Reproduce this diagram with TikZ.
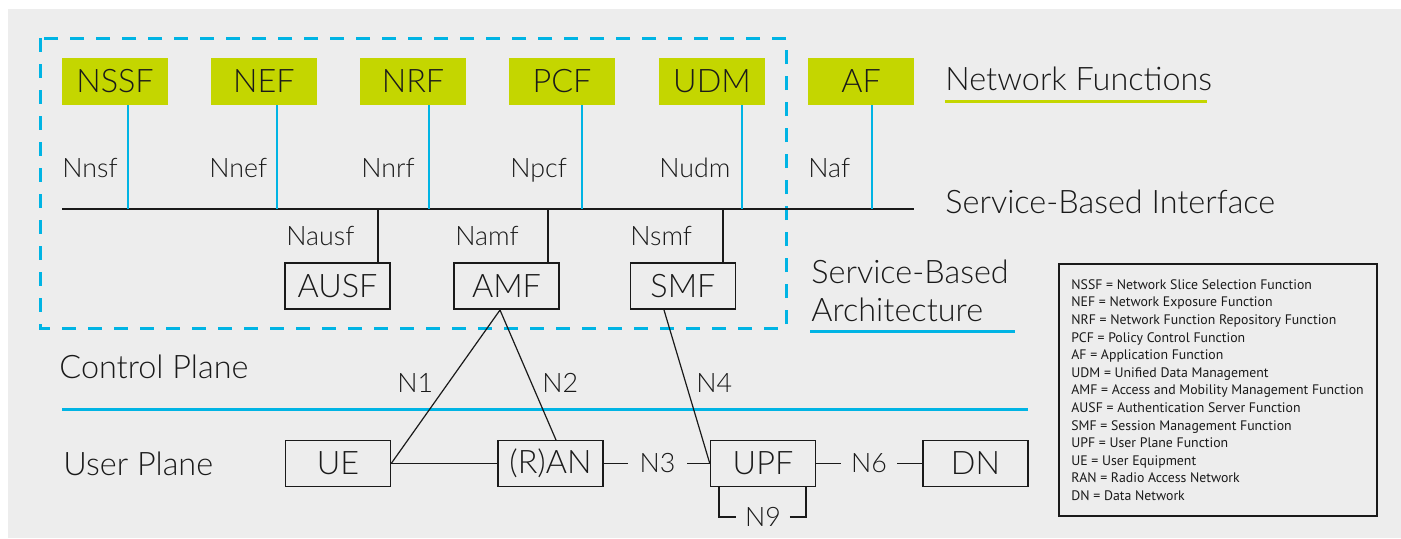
\documentclass[tikz,border=0pt]{standalone}
\usepackage{fontspec}
\setmainfont{Lato Light}
\newfontfamily\legendfamily{PT Sans}
\definecolor{bgc}{HTML}{EDEDED}
\definecolor{sbacyan}{HTML}{00B4E4}
\definecolor{nfgreen}{HTML}{C4D600}
\definecolor{ink}{HTML}{1A1A1A}
\newcommand{\boxfont}{\fontsize{16.2}{18}\selectfont}
\newcommand{\iffont}{\fontsize{13.4}{15}\selectfont}
\begin{document}
\begin{tikzpicture}[x=0.5pt,y=-0.5pt,
  every node/.style={text=ink},
  nfbox/.style={fill=nfgreen, minimum width=53pt, minimum height=23.5pt, inner sep=0pt, font=\boxfont},
  fnbox/.style={draw=ink, line width=0.7pt, minimum width=52.5pt, minimum height=23pt, inner sep=0pt, font=\boxfont},
  iflabel/.style={anchor=base west, inner sep=0pt, font=\iffont},
  title/.style={anchor=base west, inner sep=0pt, font=\boxfont},
  gaplabel/.style={inner ysep=0pt, outer sep=0pt, font=\iffont},
  sbiline/.style={draw=sbacyan, line width=0.7pt},
  blkline/.style={draw=ink, line width=0.6pt},
  planeline/.style={draw=sbacyan, line width=1.5pt}]
\useasboundingbox (0,0) rectangle (1401,538);
\fill[white] (0,0) rectangle (1401,538);
\fill[bgc] (8,9) rectangle (1401,538);

% service-based architecture frame
\draw[sbacyan, line width=1.5pt, dash pattern=on 7pt off 6pt] (40,38) rectangle (786,328);

% network functions
\node[nfbox] (nssf) at (115,81.5) {NSSF};
\node[nfbox] (nef)  at (264,81.5) {NEF};
\node[nfbox] (nrf)  at (413,81.5) {NRF};
\node[nfbox] (pcf)  at (562,81.5) {PCF};
\node[nfbox] (udm)  at (712,81.5) {UDM};
\node[nfbox] (af)   at (861,81.5) {AF};

% service-based interface bus
\coordinate (busL) at (62,209);
\coordinate (busR) at (914,209);
\draw[blkline] (busL) -- (busR);

\coordinate (tnssf) at (128,209);
\coordinate (tnef)  at (277,209);
\coordinate (tnrf)  at (429,209);
\coordinate (tpcf)  at (582,209);
\coordinate (tudm)  at (742,209);
\coordinate (taf)   at (872,209);
\draw[sbiline] (tnssf |- nssf.south) -- (tnssf);
\draw[sbiline] (tnef |- nef.south) -- (tnef);
\draw[sbiline] (tnrf |- nrf.south) -- (tnrf);
\draw[sbiline] (tpcf |- pcf.south) -- (tpcf);
\draw[sbiline] (tudm |- udm.south) -- (tudm);
\draw[sbiline] (taf |- af.south) -- (taf);

\node[iflabel] (lnssf) at (62,177)  {Nnsf};
\node[iflabel] (lnef)  at (209,177) {Nnef};
\node[iflabel] (lnrf)  at (361,177) {Nnrf};
\node[iflabel] (lpcf)  at (510,177) {Npcf};
\node[iflabel] (ludm)  at (659,177) {Nudm};
\node[iflabel] (laf)   at (808,177) {Naf};

% control plane functions below the bus
\node[fnbox] (ausf) at (337.5,286) {AUSF};
\node[fnbox] (amf)  at (506.5,286) {AMF};
\node[fnbox] (smf)  at (683,286)   {SMF};

\coordinate (tausf) at (378,209);
\coordinate (tamf)  at (548,209);
\coordinate (tsmf)  at (723,209);
\draw[blkline] (tausf) -- (tausf |- ausf.north);
\draw[blkline] (tamf) -- (tamf |- amf.north);
\draw[blkline] (tsmf) -- (tsmf |- smf.north);

\node[iflabel] (lausf) at (286,245) {Nausf};
\node[iflabel] (lamf)  at (455,245) {Namf};
\node[iflabel] (lsmf)  at (630,245) {Nsmf};

% headings
\node[title] (hnf)  at (945,90)  {Network Functions};
\draw[nfgreen, line width=1.5pt] (hnf.base west) ++(0,11) -- ++(262,0);
\node[title] (hsbi) at (945,213) {Service-Based Interface};
\node[title] (hsba1) at (811,283) {Service-Based};
\node[title] (hsba2) at (811,321) {Architecture};
\draw[sbacyan, line width=1.5pt] (hsba2.base west) ++(-1,10) -- ++(205,0);
\node[title] (hcp) at (59,378) {Control Plane};
\node[title] (hup) at (63,475) {User Plane};

% control / user plane divider
\coordinate (divL) at (62,409);
\coordinate (divR) at (1028,409);
\draw[planeline] (divL) -- (divR);

% user plane
\node[fnbox] (ue)  at (338,463.5)   {UE};
\node[fnbox] (ran) at (550.5,463.5) {(R)AN};
\node[fnbox] (upf) at (763,463.5)   {UPF};
\node[fnbox] (dn)  at (975.5,463.5) {DN};

\coordinate (amfb) at (500,310);
\coordinate (rant) at (556,440);
\coordinate (smfb) at (664,310);
\draw[blkline] (ue.east) -- (amfb) -- (rant);
\draw[blkline] (smfb) -- (upf.west);
\draw[blkline] (ue.east) -- (ran.west);

\node[iflabel] (ln1) at (397,392) {N1};
\node[iflabel] (ln2) at (542,392) {N2};
\node[iflabel] (ln4) at (696,392) {N4};

\node[gaplabel, inner xsep=6pt] (n3) at (657.5,463.5) {N3};
\draw[blkline] (ran.east) -- (n3);
\draw[blkline] (n3) -- (upf.west);

\node[gaplabel, inner xsep=5.25pt] (n6) at (869,463.5) {N6};
\draw[blkline] (upf.east) -- (n6);
\draw[blkline] (n6) -- (dn.west);

\node[gaplabel, inner xsep=4.5pt] (n9) at (763,517) {N9};
\coordinate (n9l) at (719,517);
\coordinate (n9r) at (806,517);
\draw[blkline] (n9l |- upf.south) -- (n9l) -- (n9.west);
\draw[blkline] (n9.east) -- (n9r) -- (n9r |- upf.south);

% abbreviations
\node[draw=ink, line width=0.6pt, minimum width=159pt, minimum height=126pt, inner sep=0pt] (legend) at (1218,390) {};
\node[anchor=north west, align=left, inner sep=0pt,
      font=\legendfamily\fontsize{6.9}{8.8}\selectfont] (legtext) at (1071,279) {%
NSSF = Network Slice Selection Function\\
NEF = Network Exposure Function\\
NRF = Network Function Repository Function\\
PCF = Policy Control Function\\
AF = Application Function\\
UDM = Unified Data Management\\
AMF = Access and Mobility Management Function\\
AUSF = Authentication Server Function\\
SMF = Session Management Function\\
UPF = User Plane Function\\
UE = User Equipment\\
RAN = Radio Access Network\\
DN = Data Network};
\end{tikzpicture}
\end{document}
